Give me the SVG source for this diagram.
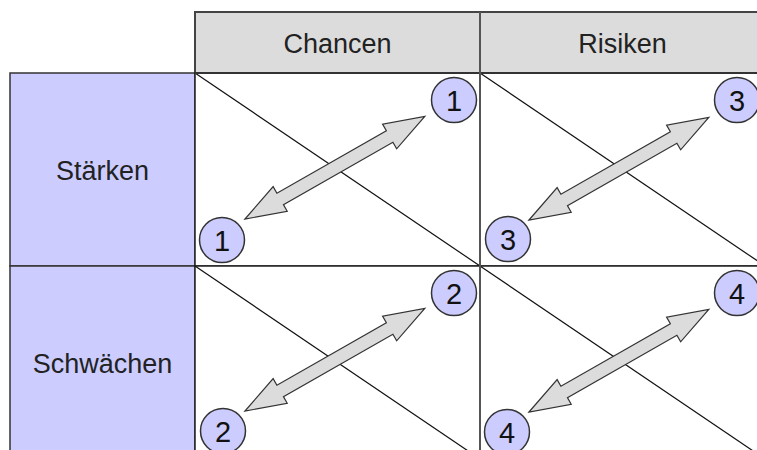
<svg xmlns="http://www.w3.org/2000/svg" width="757" height="450" viewBox="0 0 757 450">
<style>
.hdr{fill:#dcdcdc;stroke:#444;stroke-width:2}
.side{fill:#ccccff;stroke:#333;stroke-width:1.5}
.cell{fill:#ffffff;stroke:#222;stroke-width:1.5}
.diag{stroke:#111;stroke-width:1.2;fill:none}
.lbl{font-family:"Liberation Sans",Arial,sans-serif;font-size:27px;fill:#222;text-anchor:middle}
.num{font-family:"Liberation Sans",Arial,sans-serif;font-size:29px;fill:#111;text-anchor:middle}
.circ{fill:#ccccff;stroke:#333;stroke-width:1.5}
.arr{fill:#dcdcdc;stroke:#333;stroke-width:1.2;stroke-linejoin:miter}
</style>
<defs>
<path id="dbl" d="M0,0 L40.5,-14.2 L40.5,-6.6 L166.5,-6.6 L166.5,-14.2 L207,0 L166.5,14.2 L166.5,6.6 L40.5,6.6 L40.5,14.2 Z"/>
</defs>
<rect width="757" height="450" fill="#ffffff"/>
<g id="header-chancen">
<rect class="hdr" x="195" y="12" width="285" height="61"/>
<text class="lbl" x="337.5" y="53">Chancen</text>
</g>
<g id="header-risiken">
<rect class="hdr" x="480" y="12" width="285" height="61"/>
<text class="lbl" x="622.5" y="53">Risiken</text>
</g>
<g id="row-staerken">
<rect class="side" x="10" y="73" width="185" height="193"/>
<text class="lbl" x="102.5" y="180">Stärken</text>
</g>
<g id="row-schwaechen">
<rect class="side" x="10" y="266" width="185" height="193"/>
<text class="lbl" x="102.5" y="373">Schwächen</text>
</g>
<g id="cells">
<rect class="cell" x="195" y="73" width="285" height="193"/>
<rect class="cell" x="480" y="73" width="285" height="193"/>
<rect class="cell" x="195" y="266" width="285" height="193"/>
<rect class="cell" x="480" y="266" width="285" height="193"/>
<line class="diag" x1="195" y1="73" x2="480" y2="266"/>
<line class="diag" x1="480" y1="73" x2="765" y2="266"/>
<line class="diag" x1="195" y1="266" x2="480" y2="459"/>
<line class="diag" x1="480" y1="266" x2="765" y2="459"/>
<line x1="195" y1="73" x2="757" y2="73" stroke="#333" stroke-width="2"/>
<line x1="480" y1="12" x2="480" y2="450" stroke="#555" stroke-width="2"/>
</g>
<g id="connectors">
<use href="#dbl" class="arr" transform="translate(245,219) rotate(-29.7)"/>
<use href="#dbl" class="arr" transform="translate(529,220) rotate(-29.7)"/>
<use href="#dbl" class="arr" transform="translate(245,411) rotate(-29.7)"/>
<use href="#dbl" class="arr" transform="translate(529,412) rotate(-29.7)"/>
</g>
<g id="n1a"><circle class="circ" cx="222" cy="240" r="22.5"/><text class="num" x="222" y="250.5">1</text></g>
<g id="n1b"><circle class="circ" cx="454" cy="100" r="22.5"/><text class="num" x="454" y="110.5">1</text></g>
<g id="n3a"><circle class="circ" cx="508" cy="239" r="22.5"/><text class="num" x="508" y="249.5">3</text></g>
<g id="n3b"><circle class="circ" cx="737" cy="100" r="22.5"/><text class="num" x="737" y="110.5">3</text></g>
<g id="n2a"><circle class="circ" cx="223" cy="431" r="22.5"/><text class="num" x="223" y="441.5">2</text></g>
<g id="n2b"><circle class="circ" cx="454" cy="293" r="22.5"/><text class="num" x="454" y="303.5">2</text></g>
<g id="n4a"><circle class="circ" cx="507" cy="432" r="22.5"/><text class="num" x="507" y="442.5">4</text></g>
<g id="n4b"><circle class="circ" cx="737" cy="293" r="22.5"/><text class="num" x="737" y="303.5">4</text></g>
</svg>
